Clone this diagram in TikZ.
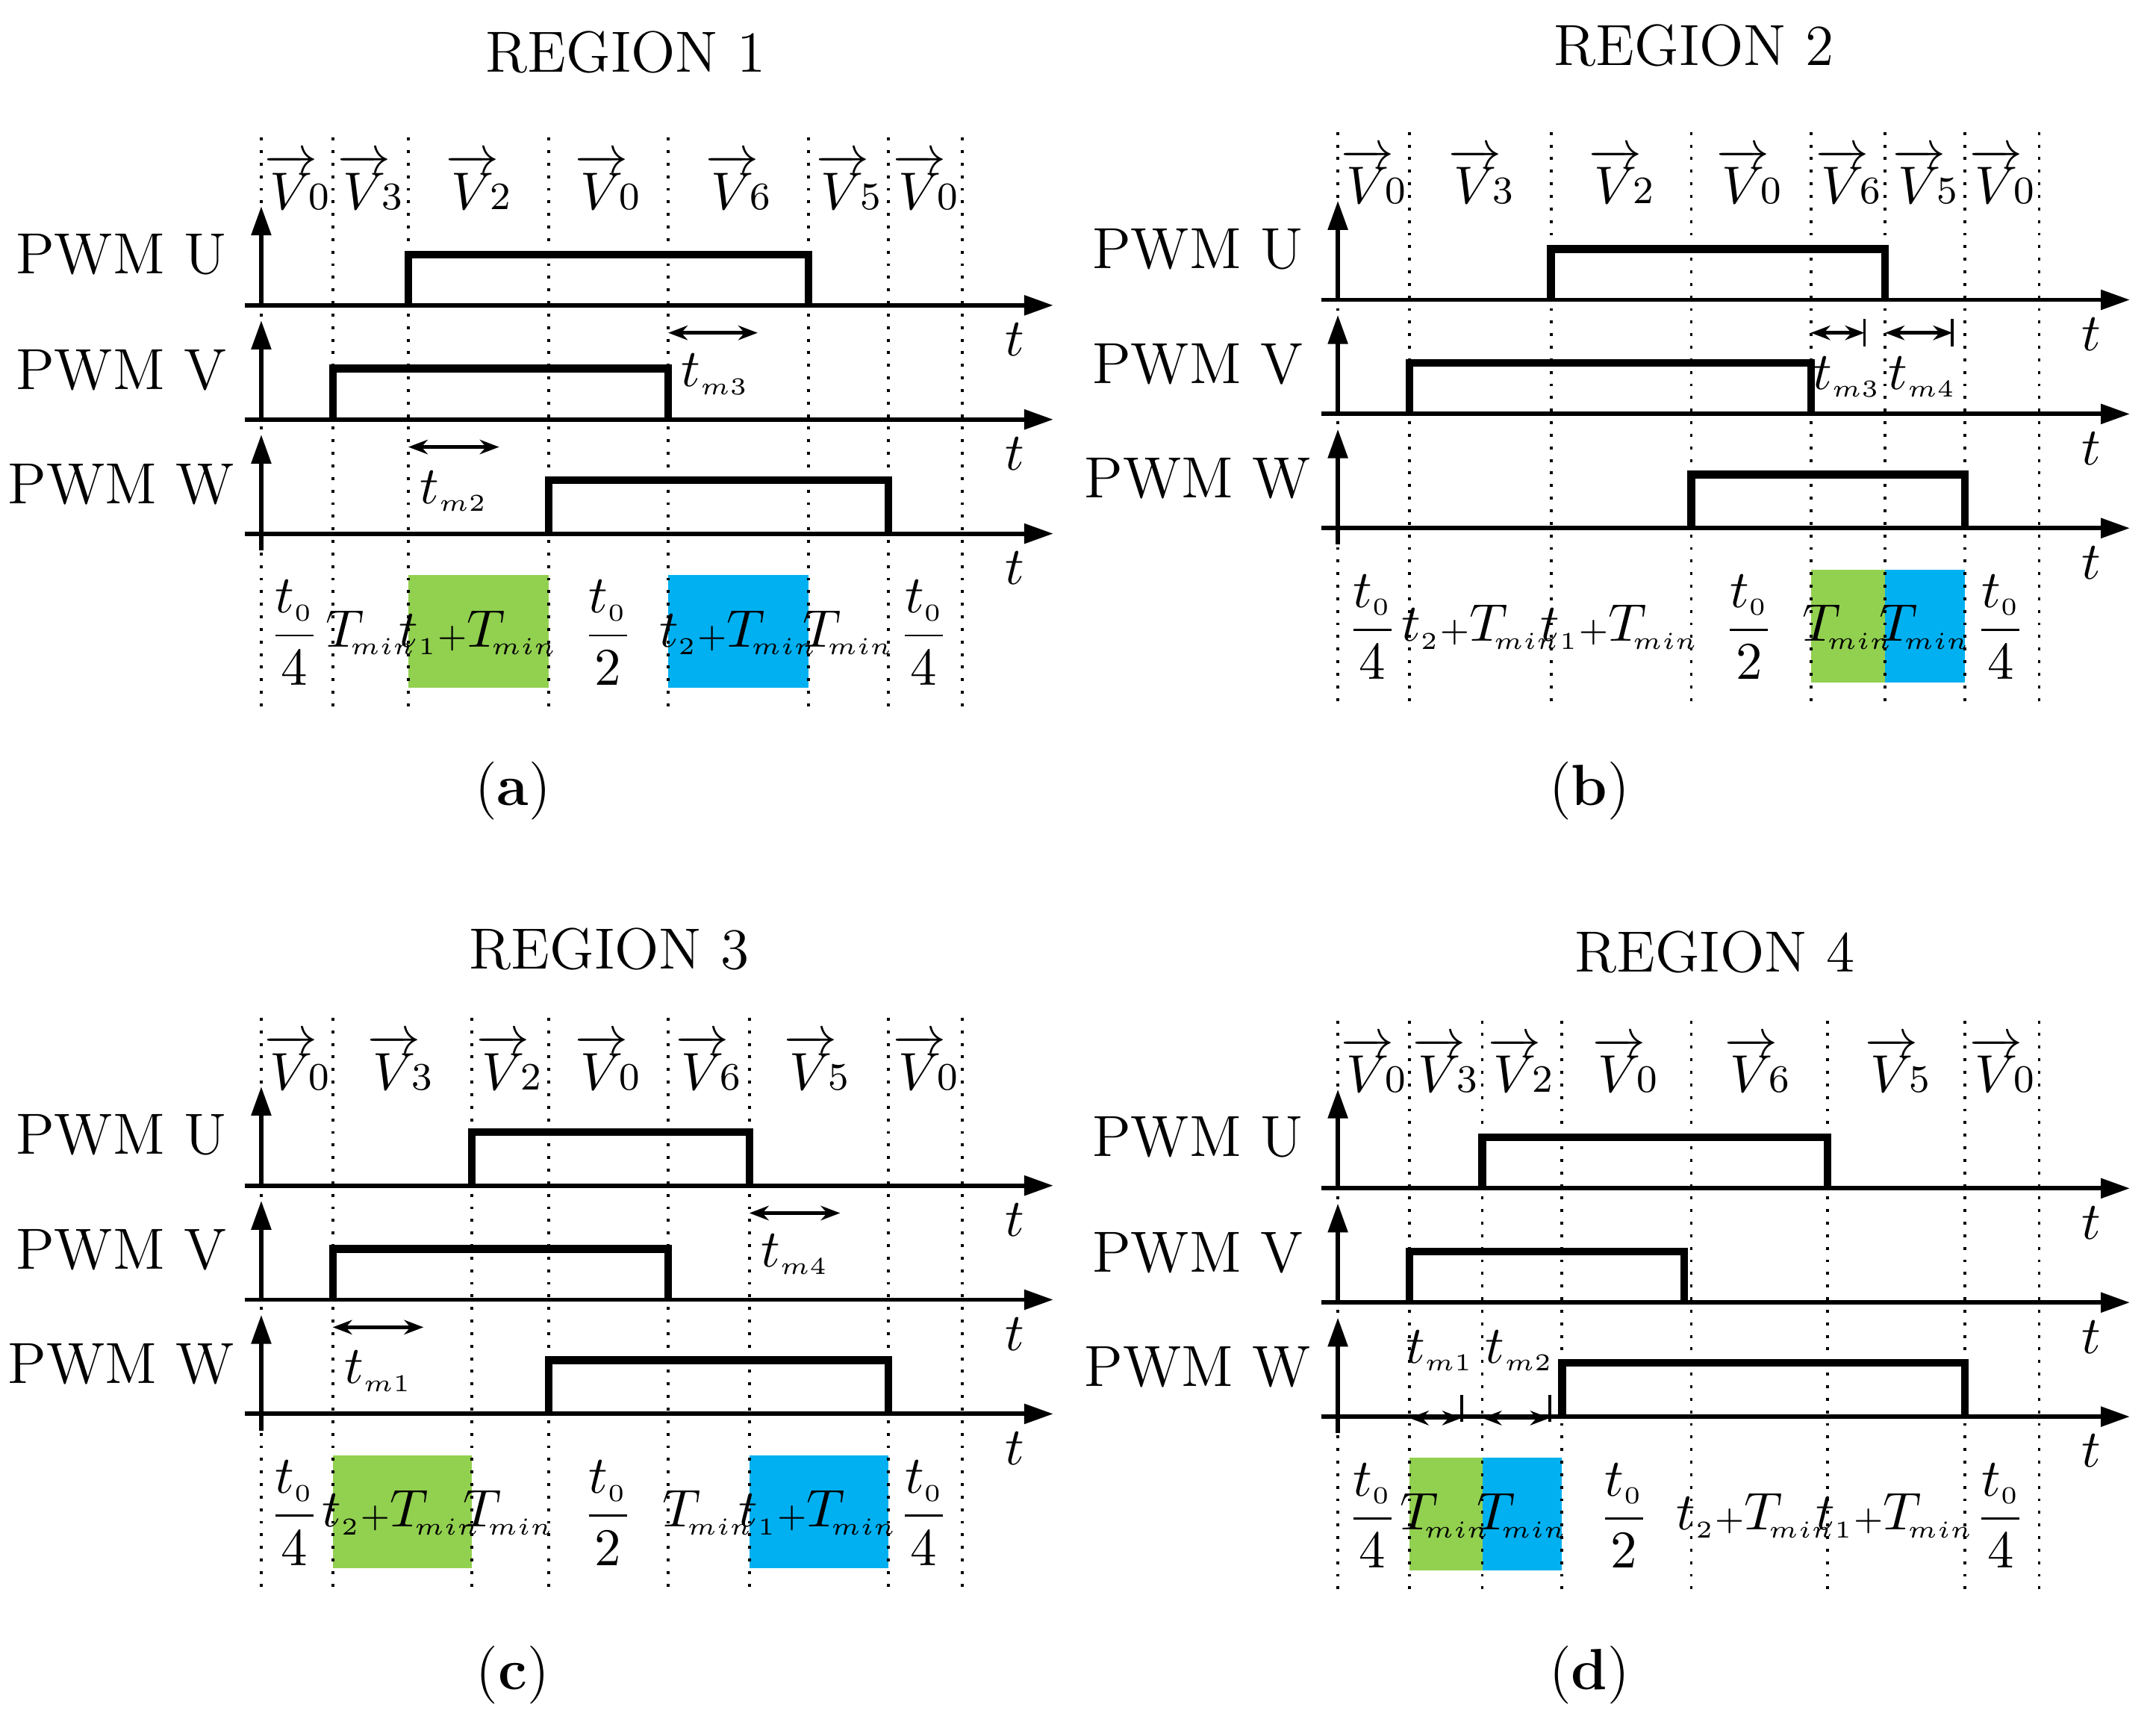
\documentclass[tikz,border=0pt]{standalone}
\usepackage{amsmath}
\usetikzlibrary{arrows.meta}
\begin{document}
\begin{tikzpicture}[x=0.01cm,y=-0.01cm,
  axis/.style={line width=0.9pt,-{Triangle[length=6pt,width=4pt]}},
  pulse/.style={line width=1.6pt},
  dot/.style={dotted,line width=0.6pt},
  dim/.style={line width=0.7pt,{Stealth[length=4pt]}-{Stealth[length=4pt]}},
  lbl/.style={font=\fontsize{12}{14}\selectfont},
  vec/.style={font=\fontsize{11}{13}\selectfont},
  tt/.style={font=\fontsize{11}{13}\selectfont},
  bot/.style={font=\fontsize{10.5}{13}\selectfont,inner sep=0pt}]
\useasboundingbox (0,0) rectangle (1568,1252);
\newcommand\myaxes[2]{%
  \foreach \k in {0,1,2}{%
    \pgfmathsetmacro\b{#2+83*\k}
    \draw[axis] (#1-12,\b) -- (#1+576,\b);
    \draw[axis] (#1,\b) -- (#1,\b-72);
    \node[tt] at (#1+548,\b+25) {$t$};}
  \draw[line width=0.9pt] (#1,#2+166) -- (#1,#2+178);
  \node[lbl] at (#1-102,#2-37) {PWM U};
  \node[lbl] at (#1-102,#2+47) {PWM V};
  \node[lbl] at (#1-102,#2+130) {PWM W};}
\newcommand\mypulse[4]{\draw[pulse] (#1,#4) -- (#1,#3) -- (#2,#3) -- (#2,#4);}
\newcommand\mydots[2]{\foreach \x in {#1}{\draw[dot] (\x,#2-122) -- (\x,#2+296);}}
\newcommand\frA[2]{\node[bot] at (#1,#2+238) {$\dfrac{t_{\scriptscriptstyle 0}}{4}$};}
\newcommand\frB[2]{\node[bot] at (#1,#2+238) {$\dfrac{t_{\scriptscriptstyle 0}}{2}$};}
\newcommand\V[3]{\node[vec] at (#1,#2-90) {$\overrightarrow{V}\!{\scriptstyle\mathrm{#3}}$};}
\newcommand\Tm{T_{\!\scriptscriptstyle min}}
\newcommand\tp[1]{t_{\scriptscriptstyle #1}{\scriptstyle+}\Tm}
\newcommand\tm[1]{t_{\scriptscriptstyle m#1}}
\definecolor{gr}{RGB}{146,208,80}
\definecolor{bl}{RGB}{0,176,240}

% ===== (a)
\fill[gr] (297,418) rectangle (399,500);
\fill[bl] (486,418) rectangle (588,500);
\mydots{190,242,297,399,486,588,646,700}{222}
\myaxes{190}{222}
\mypulse{297}{588}{185}{222}
\mypulse{242}{486}{268}{305}
\mypulse{399}{646}{349}{388}
\draw[dim] (486,242) -- (551,242); \node[tt] (tm3a) at (520,272) {$\tm3$};
\draw[dim] (297,325) -- (363,325); \node[tt] (tm2a) at (330,357) {$\tm2$};
\V{216}{222}{0}\V{269}{222}{3}\V{348}{222}{2}\V{442}{222}{0}\V{537}{222}{6}\V{617}{222}{5}\V{673}{222}{0}
\frA{214}{222}\node[bot] at (270,460) {$\Tm$};\node[bot] at (348,460) {$\tp1$};
\frB{442}{222}\node[bot] at (537,460) {$\tp2$};\node[bot] at (617,460) {$\Tm$};\frA{672}{222}
\node[lbl] (ta) at (455,38) {REGION 1};
\node[lbl] (ca) at (373,575) {(\textbf{a})};

% ===== (b)
\fill[gr] (1317,414) rectangle (1371,496);
\fill[bl] (1371,414) rectangle (1429,496);
\mydots{973,1025,1128,1230,1317,1371,1429,1483}{218}
\myaxes{973}{218}
\mypulse{1128}{1371}{181}{218}
\mypulse{1025}{1317}{264}{301}
\mypulse{1230}{1429}{345}{384}
\draw[line width=0.6pt] (1356,232) -- (1356,252);
\draw[line width=0.6pt] (1420,232) -- (1420,252);
\draw[dim] (1317,242) -- (1356,242); \node[tt] at (1343,274) {$\tm3$};
\draw[dim] (1371,242) -- (1420,242); \node[tt] at (1398,274) {$\tm4$};
\V{999}{218}{0}\V{1077}{218}{3}\V{1179}{218}{2}\V{1272}{218}{0}\V{1344}{218}{6}\V{1400}{218}{5}\V{1456}{218}{0}
\frA{998}{218}\node[bot] at (1077,456) {$\tp2$};\node[bot] at (1178,456) {$\tp1$};
\frB{1272}{218}\node[bot] at (1344,456) {$\Tm$};\node[bot] at (1400,456) {$\Tm$};\frA{1455}{218}
\node[lbl] at (1232,33) {REGION 2};
\node[lbl] at (1156,575) {(\textbf{b})};

% ===== (c)
\fill[gr] (242,1058) rectangle (343,1140);
\fill[bl] (545,1058) rectangle (646,1140);
\mydots{190,242,343,399,486,545,646,700}{862}
\myaxes{190}{862}
\mypulse{343}{545}{823}{862}
\mypulse{242}{486}{908}{945}
\mypulse{399}{646}{989}{1028}
\draw[dim] (545,882) -- (611,882); \node[tt] at (578,912) {$\tm4$};
\draw[dim] (242,965) -- (308,965); \node[tt] at (275,997) {$\tm1$};
\V{216}{862}{0}\V{291}{862}{3}\V{370}{862}{2}\V{442}{862}{0}\V{515}{862}{6}\V{594}{862}{5}\V{673}{862}{0}
\frA{214}{862}\node[bot] at (292,1100) {$\tp2$};\node[bot] at (370,1100) {$\Tm$};
\frB{442}{862}\node[bot] at (515,1100) {$\Tm$};\node[bot] at (595,1100) {$\tp1$};\frA{672}{862}
\node[lbl] at (443,690) {REGION 3};
\node[lbl] at (373,1218) {(\textbf{c})};

% ===== (d)
\fill[gr] (1025,1060) rectangle (1078,1142);
\fill[bl] (1078,1060) rectangle (1136,1142);
\mydots{973,1025,1078,1136,1230,1329,1429,1483}{864}
\myaxes{973}{864}
\mypulse{1078}{1329}{827}{864}
\mypulse{1025}{1225}{910}{947}
\mypulse{1136}{1429}{991}{1030}
\draw[line width=0.6pt] (1063,1014) -- (1063,1034);
\draw[line width=0.6pt] (1127,1014) -- (1127,1034);
\draw[dim] (1025,1031) -- (1063,1031); \node[tt] at (1047,982) {$\tm1$};
\draw[dim] (1078,1031) -- (1127,1031); \node[tt] at (1105,982) {$\tm2$};
\V{999}{864}{0}\V{1051}{864}{3}\V{1106}{864}{2}\V{1182}{864}{0}\V{1278}{864}{6}\V{1380}{864}{5}\V{1456}{864}{0}
\frA{998}{864}\node[bot] at (1051,1102) {$\Tm$};\node[bot] at (1107,1102) {$\Tm$};
\frB{1181}{864}\node[bot] at (1277,1102) {$\tp2$};\node[bot] at (1378,1102) {$\tp1$};\frA{1455}{864}
\node[lbl] at (1247,692) {REGION 4};
\node[lbl] at (1156,1218) {(\textbf{d})};
\end{tikzpicture}
\end{document}
